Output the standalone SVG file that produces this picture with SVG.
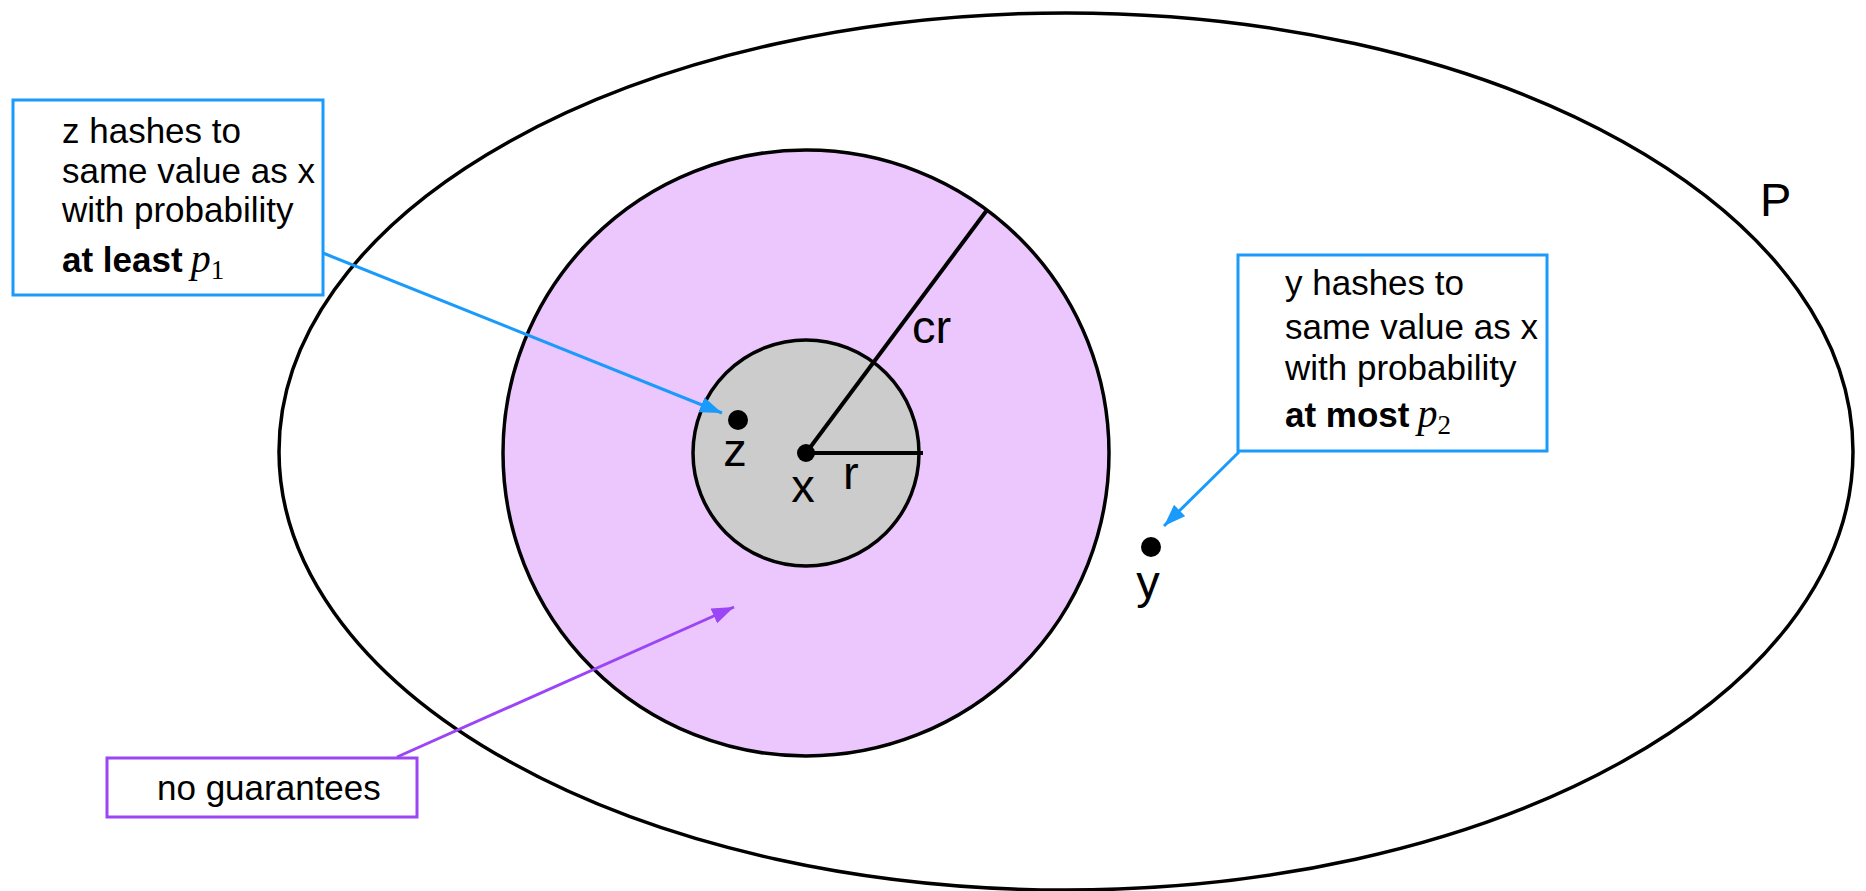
<svg xmlns="http://www.w3.org/2000/svg" width="1866" height="891" viewBox="0 0 1866 891">
<style>
.lbl{font-family:"Liberation Sans",Arial,sans-serif;font-size:47px;fill:#000}
.txt{font-family:"Liberation Sans",Arial,sans-serif;font-size:35px;fill:#000}
.b{font-weight:bold}
.mi{font-family:"Liberation Serif","Times New Roman",serif;font-style:italic;font-size:40px}
.sub{font-family:"Liberation Serif","Times New Roman",serif;font-size:27px}
.blue{fill:#fff;stroke:#1a9bfb;stroke-width:3}
.purp{fill:#fff;stroke:#9b45f5;stroke-width:3}
.edge{fill:none;stroke-width:3}
.dot{fill:#000}
</style>
<defs>
<marker id="ab" markerUnits="userSpaceOnUse" markerWidth="24" markerHeight="18" refX="22" refY="8" orient="auto"><path d="M0,0 L22,8 L0,16 z" fill="#1a9bfb"/></marker>
<marker id="ap" markerUnits="userSpaceOnUse" markerWidth="24" markerHeight="18" refX="22" refY="8" orient="auto"><path d="M0,0 L22,8 L0,16 z" fill="#9b45f5"/></marker>
</defs>
<rect width="1866" height="891" fill="#fff"/>
<g id="setP">
<ellipse cx="1066" cy="451.5" rx="787" ry="438.5" fill="none" stroke="#000" stroke-width="3.5"/>
<text class="lbl" x="1760" y="216">P</text>
</g>
<g id="ballCR">
<circle cx="806" cy="453" r="303" fill="#ebc7fe" stroke="#000" stroke-width="3.5"/>
</g>
<g id="ballR">
<circle cx="806" cy="453" r="113" fill="#cccccc" stroke="#000" stroke-width="3.5"/>
</g>
<g id="radii">
<line x1="806" y1="453" x2="987" y2="210" stroke="#000" stroke-width="4"/>
<line x1="806" y1="453" x2="923" y2="453" stroke="#000" stroke-width="4"/>
<text class="lbl" x="912" y="343">cr</text>
<text class="lbl" x="843" y="489">r</text>
</g>
<g id="pointX">
<circle class="dot" cx="806" cy="453" r="9"/>
<text class="lbl" x="803" y="502" text-anchor="middle">x</text>
</g>
<g id="pointZ">
<circle class="dot" cx="738" cy="420" r="10"/>
<text class="lbl" x="735" y="466" text-anchor="middle">z</text>
</g>
<g id="pointY">
<circle class="dot" cx="1151" cy="547" r="10"/>
<text class="lbl" x="1148" y="598" text-anchor="middle">y</text>
</g>
<g id="noteZ">
<rect class="blue" x="13" y="100" width="310" height="195"/>
<text class="txt" x="62" y="143">z hashes to</text>
<text class="txt" x="62" y="183">same value as x</text>
<text class="txt" x="62" y="222">with probability</text>
<text class="txt" x="62" y="272"><tspan class="b">at least</tspan><tspan class="mi" dx="8">p</tspan><tspan class="sub" dy="7">1</tspan></text>
</g>
<g id="noteY">
<rect class="blue" x="1238" y="255" width="309" height="196"/>
<text class="txt" x="1285" y="295">y hashes to</text>
<text class="txt" x="1285" y="339">same value as x</text>
<text class="txt" x="1285" y="380">with probability</text>
<text class="txt" x="1285" y="427"><tspan class="b">at most</tspan><tspan class="mi" dx="8">p</tspan><tspan class="sub" dy="7">2</tspan></text>
</g>
<g id="noteNone">
<rect class="purp" x="107" y="758" width="310" height="59"/>
<text class="txt" x="157" y="800">no guarantees</text>
</g>
<g id="connectors">
<line class="edge" x1="323" y1="253" x2="722" y2="413" stroke="#1a9bfb" marker-end="url(#ab)"/>
<line class="edge" x1="1239" y1="452" x2="1164" y2="526" stroke="#1a9bfb" marker-end="url(#ab)"/>
<line class="edge" x1="397" y1="757" x2="734" y2="607" stroke="#9b45f5" marker-end="url(#ap)"/>
</g>
</svg>
